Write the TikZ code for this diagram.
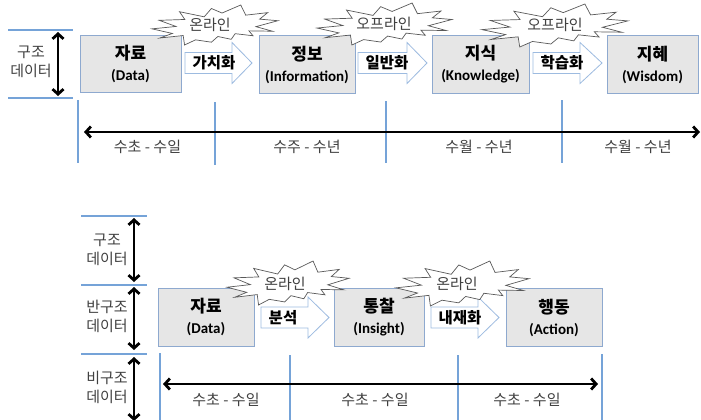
\documentclass[tikz,border=0pt]{standalone}
\usepackage{fontspec}
\setmainfont{Carlito}
\newfontfamily\kr{Noto Sans CJK KR}
\usetikzlibrary{arrows.meta}
\definecolor{boxgray}{HTML}{E6E6E6}
\definecolor{boxblue}{HTML}{8EA9CF}
\definecolor{arrowblue}{HTML}{9DBBE0}
\definecolor{lineblue}{HTML}{75A3D8}
\definecolor{txtgray}{HTML}{404040}
\definecolor{burstline}{HTML}{595959}
\tikzset{
  box/.style={draw=boxblue, fill=boxgray, line width=1pt, align=center, inner sep=0pt,
    font=\fontsize{15}{21}\selectfont\bfseries},
  blockarrow/.style={draw=arrowblue, fill=white, line width=0.8pt},
  arrowtext/.style={font=\kr\fontsize{15.5}{16}\selectfont\bfseries, inner sep=0pt},
  bursttext/.style={font=\kr\fontsize{15}{16}\selectfont, text=txtgray, inner sep=0pt},
  sidetext/.style={font=\kr\fontsize{15}{19}\selectfont, text=txtgray, align=center, inner sep=0pt},
  timetext/.style={font=\kr\fontsize{15}{16}\selectfont, text=txtgray, inner sep=0pt},
  blueline/.style={draw=lineblue, line width=1.2pt},
  bigarrow/.style={line width=2.8pt, {Straight Barb[length=5pt,width=11pt]}-{Straight Barb[length=5pt,width=11pt]}},
  burstshape/.style={draw=burstline, fill=white, line width=0.7pt, line join=miter},
}
\newcommand\kbig[1]{{\kr\fontsize{17}{21}\selectfont #1}}
\newcommand\myburst[4]{% x0,y0,w,h
  \begin{scope}[shift={(#1,#2)}, xscale=#3/216, yscale=#4/216]
    \draw[burstshape] (114.62,43.42) -- (97.22,18.87) -- (85.50,63.82) -- (45.02,36.25)
      -- (53.72,78.17) -- (11.72,82.70) -- (39.35,115.92) -- (0,128.77) -- (33.30,153.70)
      -- (12.85,178.25) -- (51.02,164.85) -- (53.25,216) -- (71.25,188.20) -- (97.22,200.87)
      -- (107.77,170.12) -- (129.60,185.27) -- (136.10,154.87) -- (165.30,166.05)
      -- (158.60,139.65) -- (197.20,141.65) -- (170.12,116.92) -- (205.97,84.82)
      -- (176.12,76.32) -- (189.30,41.20) -- (153.35,54.87) -- (145.22,0) -- cycle;
  \end{scope}}
\newcommand\myarrow[7]{% name, xl, xh, xt, ymid, text, textx
  \draw[blockarrow] (#2,#5-10.5) -- (#3,#5-10.5) -- (#3,#5-20.5) -- (#4,#5) -- (#3,#5+20.5)
    -- (#3,#5+10.5) -- (#2,#5+10.5) -- cycle;
  \node[arrowtext] (#1) at (#7,#5) {#6};}
\begin{document}
\begin{tikzpicture}[x=1pt,y=-1pt]
\useasboundingbox (0,0) rectangle (701,420);
% ---------------- top ----------------
\draw[blueline] (8,30) -- (73,30);
\draw[blueline] (8,98) -- (73,98);
\node[sidetext] (s0) at (31,62) {구조\\데이터};
\coordinate (t0a) at (58,32);
\coordinate (t0b) at (58,96);
\draw[bigarrow] (t0a) -- (t0b);

\node[box, minimum width=101, minimum height=56] (d1) at (130.5,64) {\kbig{자료}\\(Data)};
\node[box, minimum width=96, minimum height=57] (d2) at (307,64.5) {\kbig{정보}\\(Information)};
\node[box, minimum width=97, minimum height=57] (d3) at (480.5,64.5) {\kbig{지식}\\(Knowledge)};
\node[box, minimum width=91, minimum height=57] (d4) at (652.5,64.5) {\kbig{지혜}\\(Wisdom)};

\myarrow{a1}{185}{232}{252}{63}{가치화}{214}
\myarrow{a2}{358}{407}{427}{63}{일반화}{387}
\myarrow{a3}{533}{580}{602}{63}{학습화}{562}

\myburst{152}{5}{132}{40}
\node[bursttext] (o1) at (210,25) {온라인};
\myburst{317}{3}{141.5}{42}
\node[bursttext] (o2) at (384,24) {오프라인};
\myburst{482}{4}{153}{43}
\node[bursttext] (o3) at (555,25) {오프라인};

\draw[blueline] (78,100) -- (78,163);
\draw[blueline] (215,102) -- (215,165);
\draw[blueline] (386,101) -- (386,163);
\draw[blueline] (562,100) -- (562,163);
\coordinate (tl1) at (84,132);
\coordinate (tr1) at (700,132);
\draw[bigarrow] (tl1) -- (tr1);
\node[timetext] (p1) at (147.5,147) {수초 - 수일};
\node[timetext] (p2) at (307,147) {수주 - 수년};
\node[timetext] (p3) at (479,147) {수월 - 수년};
\node[timetext] (p4) at (638,147) {수월 - 수년};

% ---------------- bottom ----------------
\draw[blueline] (81,216) -- (147,216);
\draw[blueline] (81,285) -- (147,285);
\draw[blueline] (81,354) -- (147,354);
\node[sidetext] (s1) at (107,250) {구조\\데이터};
\node[sidetext] (s2) at (107,316) {반구조\\데이터};
\node[sidetext] (s3) at (107,387) {비구조\\데이터};
\coordinate (v1a) at (134,218); \coordinate (v1b) at (134,282);
\coordinate (v2a) at (134,287); \coordinate (v2b) at (134,350);
\coordinate (v3a) at (134,357); \coordinate (v3b) at (134,421);
\draw[bigarrow] (v1a) -- (v1b);
\draw[bigarrow] (v2a) -- (v2b);
\draw[bigarrow] (v3a) -- (v3b);

\node[box, minimum width=96, minimum height=58] (e1) at (206,317) {\kbig{자료}\\(Data)};
\node[box, minimum width=90, minimum height=58] (e2) at (379,317) {\kbig{통찰}\\(Insight)};
\node[box, minimum width=96, minimum height=58] (e3) at (554,317.5) {\kbig{행동}\\(Action)};

\myarrow{b1}{261}{308}{329}{317.5}{분석}{283}
\myarrow{b2}{431}{478}{499}{317.5}{내재화}{460}

\myburst{227}{261}{128}{44}
\node[bursttext] (o4) at (285,284) {온라인};
\myburst{396}{261}{139.5}{45}
\node[bursttext] (o5) at (457,284) {온라인};

\draw[blueline] (160,353) -- (160,420);
\draw[blueline] (290,355) -- (290,420);
\draw[blueline] (458,355) -- (458,420);
\draw[blueline] (602,354) -- (602,420);
\coordinate (tl2) at (163,384);
\coordinate (tr2) at (598,384);
\draw[bigarrow] (tl2) -- (tr2);
\node[timetext] (q1) at (226,400) {수초 - 수일};
\node[timetext] (q2) at (375,400) {수초 - 수일};
\node[timetext] (q3) at (527,400) {수초 - 수일};
\end{tikzpicture}
\end{document}
